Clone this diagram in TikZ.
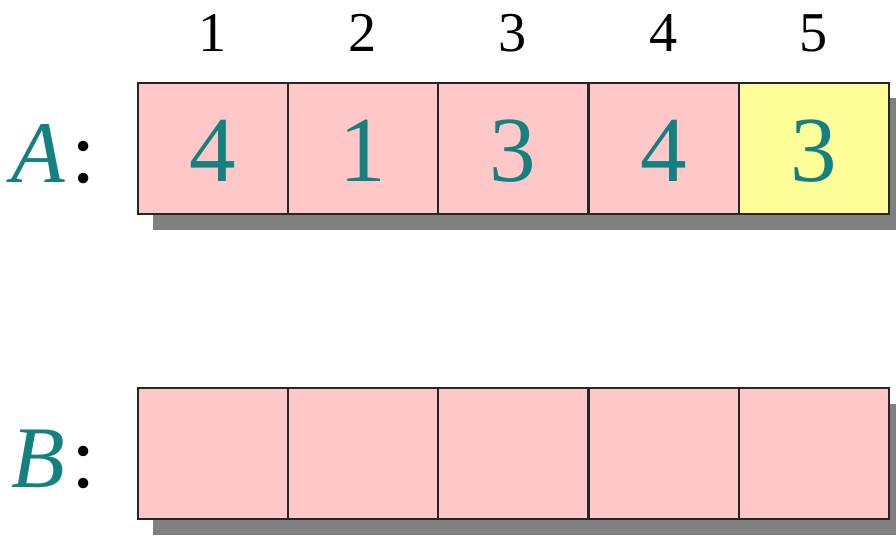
\documentclass[tikz,border=0pt]{standalone}
\usepackage{fontspec}
\setmainfont{Liberation Serif}
\usetikzlibrary{positioning,calc}

\definecolor{cellpink}{RGB}{255,200,200}
\definecolor{cellyellow}{RGB}{255,255,153}
\definecolor{numteal}{RGB}{20,128,128}
\definecolor{shadowgray}{RGB}{128,128,128}

\begin{document}
\begin{tikzpicture}[x=0.02cm, y=-0.02cm,
    cell/.style={draw=black!85, line width=0.8pt, fill=cellpink, minimum width=3cm, minimum height=2.62cm, inner sep=0pt, text height=1.34cm, text depth=0cm, font=\fontsize{53}{60}\selectfont, text=numteal},
    hicell/.style={cell, fill=cellyellow},
    idx/.style={anchor=base, inner sep=0pt, font=\fontsize{32}{36}\selectfont},
    arrname/.style={anchor=base east, inner sep=0pt, font=\fontsize{50}{60}\selectfont},
    shade/.style={fill=shadowgray}
]
\clip (0,0) rectangle (896,537);

% index row
\node[idx] (i1) at (213,52) {1};
\node[idx] (i2) at (363,52) {2};
\node[idx] (i3) at (513,52) {3};
\node[idx] (i4) at (664,52) {4};
\node[idx] (i5) at (814,52) {5};

% array A
\node[arrname] (la) at (96,182) {\textcolor{numteal}{\textit{A}}\hspace{0.12cm}:};
\coordinate (sa) at (213,148.5);
\fill[shade] ($(sa)+(-60,-50)$) rectangle ($(sa)+(691,81)$);
\node[cell] (a1) at (213,148.5) {4};
\node[cell] (a2) at (363,148.5) {1};
\node[cell] (a3) at (513,148.5) {3};
\node[cell] (a4) at (664,148.5) {4};
\node[hicell] (a5) at (814,148.5) {3};

% array B
\node[arrname] (lb) at (96,487) {\textcolor{numteal}{\textit{B}}\hspace{0.12cm}:};
\coordinate (sb) at (213,453.5);
\fill[shade] ($(sb)+(-60,-50)$) rectangle ($(sb)+(691,81)$);
\node[cell] (b1) at (213,453.5) {};
\node[cell] (b2) at (363,453.5) {};
\node[cell] (b3) at (513,453.5) {};
\node[cell] (b4) at (664,453.5) {};
\node[cell] (b5) at (814,453.5) {};
\end{tikzpicture}
\end{document}
